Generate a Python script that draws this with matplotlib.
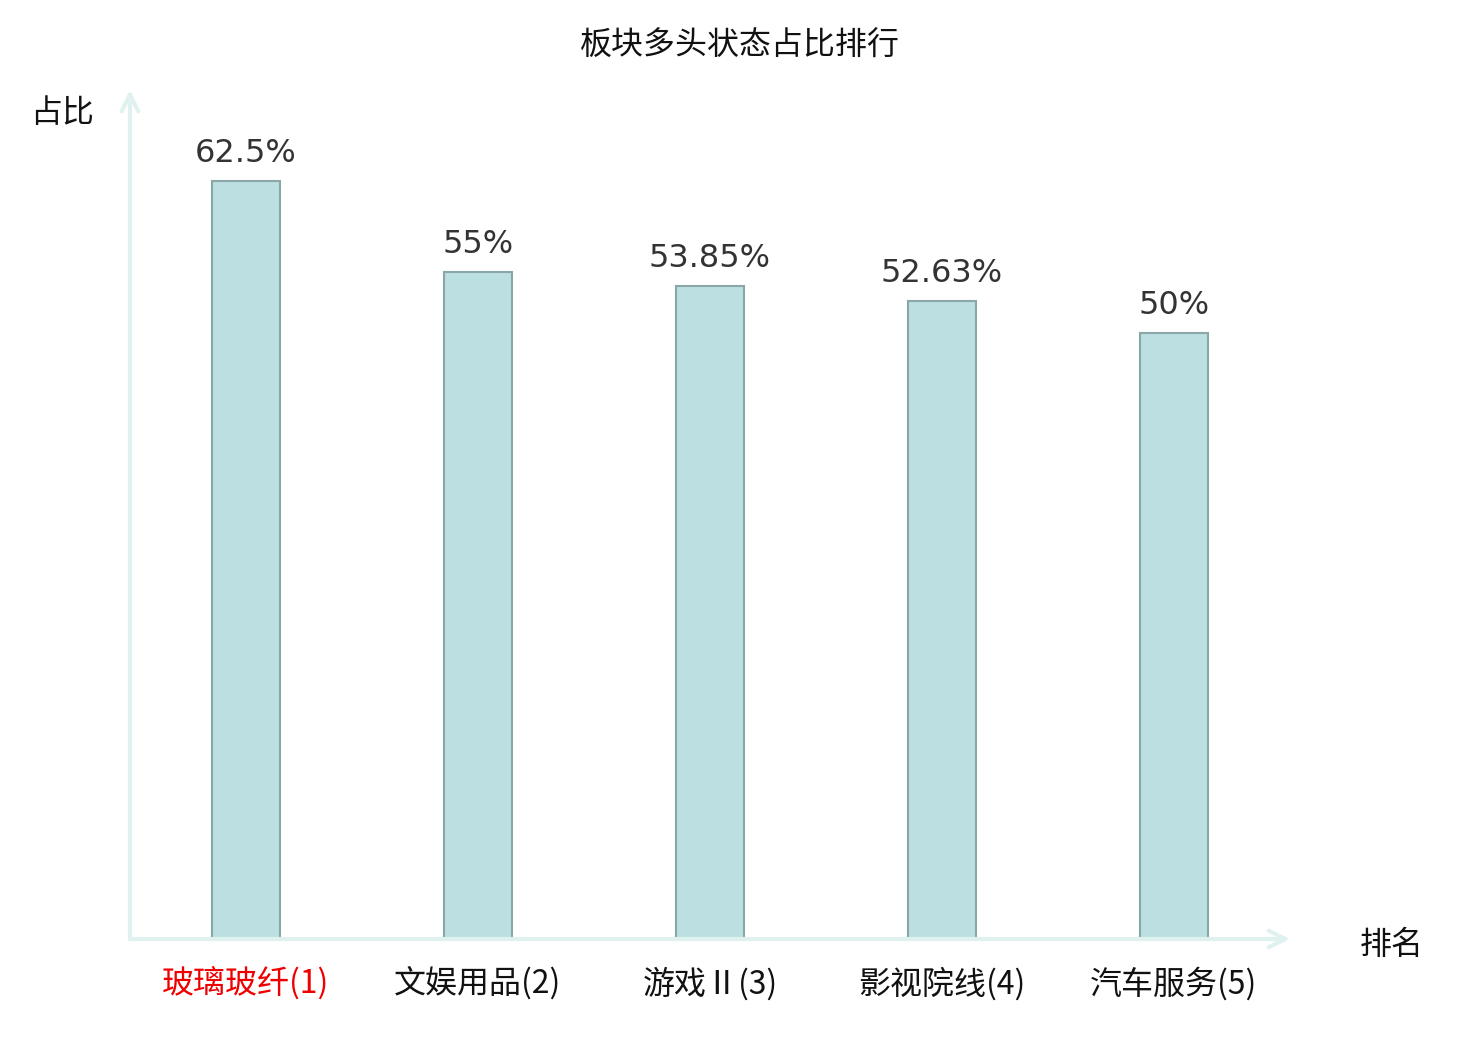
import matplotlib
matplotlib.use('Agg')
import matplotlib.pyplot as plt

plt.rcParams['font.family'] = ['Noto Sans CJK SC', 'DejaVu Sans']

sectors = ['玻璃玻纤(1)', '文娱用品(2)', '游戏Ⅱ(3)', '影视院线(4)', '汽车服务(5)']
ratios = [62.5, 55, 53.85, 52.63, 50]
ratio_labels = ['62.5%', '55%', '53.85%', '52.63%', '50%']
label_colors = ['#ee0000', '#111111', '#111111', '#111111', '#111111']

axis_color = '#dff2ef'

fig = plt.figure(figsize=(14.8, 10.4), dpi=100)
ax = fig.add_axes([0.0878, 0.0971, 0.7838, 0.8164])

xs = list(range(len(sectors)))
ax.bar(xs, ratios, width=0.295, color='#bce0e2', edgecolor='#8ba6a6', linewidth=1.5)

for x, v, t in zip(xs, ratios, ratio_labels):
    ax.text(x, v + 0.95, t, ha='center', va='bottom', fontsize=23,
            color='#333333', family='DejaVu Sans')

ax.set_xlim(-0.5, 4.5)
ax.set_ylim(0, 70)
for s in ax.spines.values():
    s.set_visible(False)
ax.set_yticks([])
ax.set_xticks(xs)
ax.set_xticklabels(sectors, fontsize=23)
ax.tick_params(axis='x', length=0, pad=20)
for lbl, c in zip(ax.get_xticklabels(), label_colors):
    lbl.set_color(c)

# axis arrows
ax.annotate('', xy=(0, 1), xytext=(0, 0), xycoords='axes fraction',
            arrowprops=dict(arrowstyle='->', color=axis_color, lw=3,
                            mutation_scale=30, shrinkA=0, shrinkB=0))
ax.annotate('', xy=(1, 0), xytext=(0, 0), xycoords='axes fraction',
            arrowprops=dict(arrowstyle='->', color=axis_color, lw=3,
                            mutation_scale=30, shrinkA=0, shrinkB=0))

fig.text(0.020, 0.891, '占比', fontsize=23, ha='left', va='center', color='#111111')
fig.text(0.919, 0.091, '排名', fontsize=23, ha='left', va='center', color='#111111')
fig.text(0.5, 0.956, '板块多头状态占比排行', fontsize=23, ha='center', va='center', color='#111111')

fig.savefig('out.png', dpi=100)
